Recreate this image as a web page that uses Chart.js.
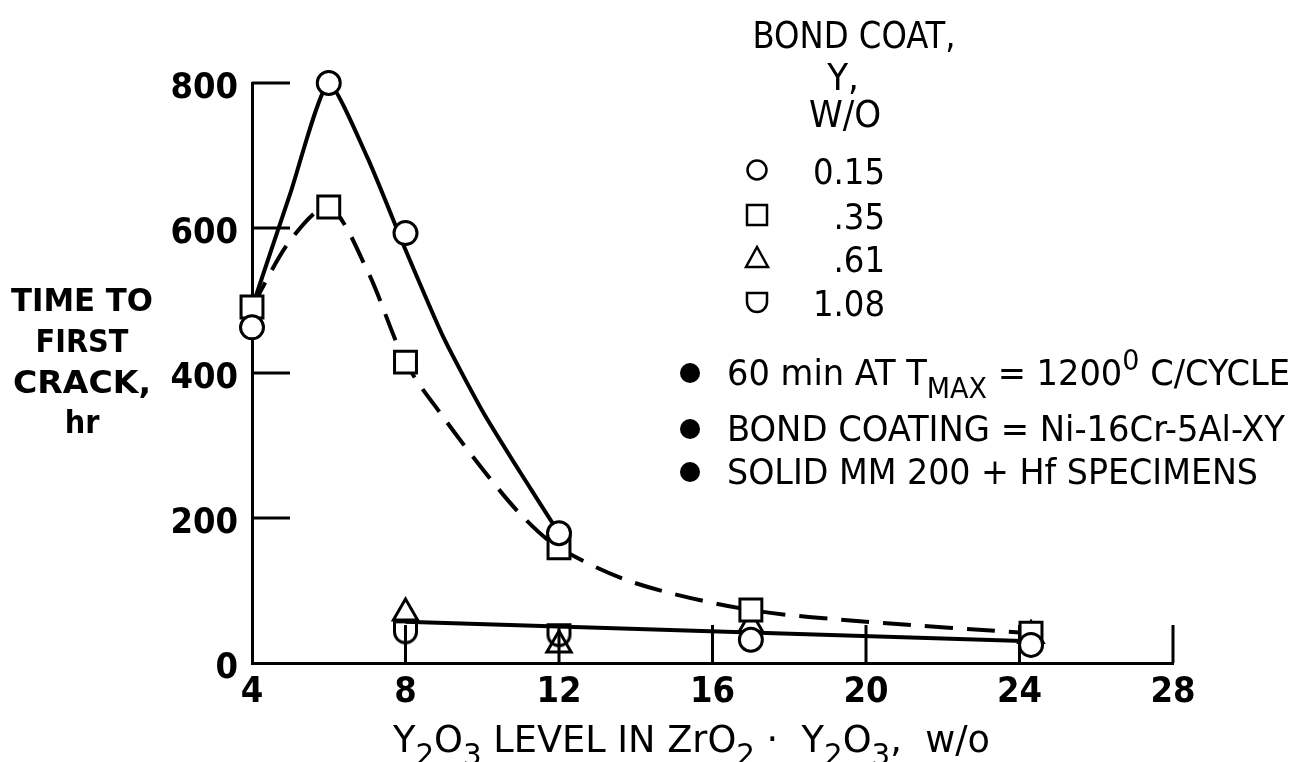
<!DOCTYPE html>
<html>
<head>
<meta charset="utf-8">
<script src="https://cdn.jsdelivr.net/npm/chart.js@4.4.0/dist/chart.umd.min.js"></script>
<style>
  html, body { margin: 0; padding: 0; background: #fff; }
</style>
</head>
<body>
<canvas id="myChart" width="1301" height="762"></canvas>
<script>
// axis ticks
var xTicks = [4, 8, 12, 16, 20, 24, 28];
var yTicks = [0, 200, 400, 600, 800];

// bond coat Y content, w/o (legend)
var bondCoat = ['0.15', '.35', '.61', '1.08'];

// measured points, time to first crack (hr) vs Y2O3 level (w/o)
var circleX = [4, 6, 8, 12, 17, 24.3];
var circleY = [463, 800, 593, 179, 32, 25];
var squareX = [4, 6, 8, 12, 17, 24.3];
var squareY = [491, 629, 415, 159, 73, 41];
var triangleX = [8, 12, 17, 24.3];
var triangleY = [69, 25, 52, 38];
var shieldX = [8, 12];
var shieldY = [43, 39];

// faired curves
var solidCurveX = [4, 5, 6, 7, 8, 9, 10, 11, 12];
var solidCurveY = [490, 648, 800, 698, 570, 448, 348, 262, 179];
var dashCurveX = [4, 5, 6, 7, 8, 9, 10, 11, 12, 14, 17, 20, 24.3];
var dashCurveY = [491, 583, 629, 542, 415, 338, 268, 205, 159, 110, 73, 57, 41];
var lowLineX = [8, 24.3];
var lowLineY = [57, 30];

var FONT = '"DejaVu Sans Condensed", "Liberation Sans Narrow", "DejaVu Sans", sans-serif';

function pts(xs, ys) {
    return xs.map(function (v, i) { return { x: v, y: ys[i] }; });
}

function drawShield(g, r) {
    g.beginPath();
    g.moveTo(-r, -r * 0.9);
    g.lineTo(r, -r * 0.9);
    g.lineTo(r, 0);
    g.arc(0, 0, r, 0, Math.PI);
    g.closePath();
}

function makeShield(r, lw) {
    var c = document.createElement('canvas');
    var s = Math.ceil(2 * r + lw + 4);
    c.width = s; c.height = s;
    var g = c.getContext('2d');
    g.translate(s / 2, s / 2);
    drawShield(g, r);
    g.lineWidth = lw;
    g.strokeStyle = '#000';
    g.stroke();
    return c;
}

var shieldImg = makeShield(11, 3);

function curve(xs, ys, dash, tension) {
    return {
        data: pts(xs, ys),
        borderColor: '#000',
        borderWidth: 4,
        borderDash: dash,
        tension: tension,
        pointRadius: 0,
        fill: false,
        clip: false,
        order: 2
    };
}

function marks(xs, ys, style, radius, bg) {
    return {
        data: pts(xs, ys),
        showLine: false,
        pointStyle: style,
        pointRadius: radius,
        pointBorderWidth: 3,
        pointBorderColor: '#000',
        pointBackgroundColor: bg,
        clip: false,
        order: 1
    };
}

// rich text: parts = [[text, kind]] kind 0 normal, 1 subscript, 2 superscript
function richText(ctx, parts, x, y, size, weight, width, align) {
    function f(p) {
        var s = p[1] ? size * 0.8 : size;
        return weight + ' ' + s + 'px ' + FONT;
    }
    var total = 0;
    parts.forEach(function (p) { ctx.font = f(p); total += ctx.measureText(p[0]).width; });
    var k = width ? width / total : 1;
    var start = x;
    if (align === 'center') start = x - total * k / 2;
    if (align === 'right') start = x - total * k;
    ctx.save();
    ctx.translate(start, y);
    ctx.scale(k, 1);
    ctx.textBaseline = 'alphabetic';
    ctx.textAlign = 'left';
    ctx.fillStyle = '#000';
    var cx = 0;
    parts.forEach(function (p) {
        ctx.font = f(p);
        var dy = p[1] === 1 ? size * 0.35 : (p[1] === 2 ? -size * 0.42 : 0);
        ctx.fillText(p[0], cx, dy);
        cx += ctx.measureText(p[0]).width;
    });
    ctx.restore();
}

function legendMark(ctx, i, x, y) {
    ctx.beginPath();
    if (i === 0) ctx.arc(x, y, 9.5, 0, Math.PI * 2);
    if (i === 1) ctx.rect(x - 10, y - 10, 20, 20);
    if (i === 2) { ctx.moveTo(x, y - 11); ctx.lineTo(x + 11, y + 9); ctx.lineTo(x - 11, y + 9); ctx.closePath(); }
    if (i === 3) { ctx.translate(x, y); drawShield(ctx, 10); ctx.translate(-x, -y); }
    ctx.stroke();
}

var paperPlugin = {
    id: 'paper',
    afterDatasetsDraw: function (chart) {
        var ctx = chart.ctx;
        var xs = chart.scales.x, ys = chart.scales.y;
        ctx.save();
        ctx.strokeStyle = '#000';
        ctx.lineWidth = 3;
        ctx.beginPath();
        xTicks.slice(1).forEach(function (v) {
            var px = xs.getPixelForValue(v);
            ctx.moveTo(px, ys.bottom);
            ctx.lineTo(px, ys.bottom - 38);
        });
        yTicks.slice(1).forEach(function (v) {
            var py = ys.getPixelForValue(v);
            ctx.moveTo(xs.left, py);
            ctx.lineTo(xs.left + 38, py);
        });
        ctx.stroke();
        ctx.restore();
    },
    afterDraw: function (chart) {
        var ctx = chart.ctx;
        ctx.save();

        // y axis title
        richText(ctx, [['TIME TO', 0]], 82, 311, 32, 'bold', 142, 'center');
        richText(ctx, [['FIRST', 0]], 82, 352, 32, 'bold', null, 'center');
        richText(ctx, [['CRACK,', 0]], 82, 393, 32, 'bold', 138, 'center');
        richText(ctx, [['hr', 0]], 82, 433, 32, 'bold', null, 'center');

        // x axis title
        richText(ctx, [['Y', 0], ['2', 1], ['O', 0], ['3', 1], [' LEVEL IN ZrO', 0], ['2', 1],
            [' \u00B7  Y', 0], ['2', 1], ['O', 0], ['3', 1], [',  w/o', 0]],
            393, 752, 38, 'normal', 597, 'left');

        // legend
        richText(ctx, [['BOND COAT,', 0]], 854, 48, 38, 'normal', 203, 'center');
        richText(ctx, [['Y,', 0]], 843, 90, 38, 'normal', null, 'center');
        richText(ctx, [['W/O', 0]], 845, 127, 38, 'normal', null, 'center');
        var rowY = [170, 215, 258, 302];
        ctx.strokeStyle = '#000';
        ctx.lineWidth = 2.5;
        bondCoat.forEach(function (lab, i) {
            legendMark(ctx, i, 757, rowY[i]);
            richText(ctx, [[lab, 0]], 885, rowY[i] + 14, 36, 'normal', null, 'right');
        });

        // test conditions
        var noteY = [385, 441, 484];
        noteY.forEach(function (ny) {
            ctx.beginPath();
            ctx.arc(690, ny - 12, 10, 0, Math.PI * 2);
            ctx.fillStyle = '#000';
            ctx.fill();
        });
        richText(ctx, [['60 min AT T', 0], ['MAX', 1], [' = 1200', 0], ['0', 2], [' C/CYCLE', 0]],
            727, noteY[0], 36, 'normal', 563, 'left');
        richText(ctx, [['BOND COATING = Ni-16Cr-5Al-XY', 0]], 727, noteY[1], 36, 'normal', 558, 'left');
        richText(ctx, [['SOLID MM 200 + Hf SPECIMENS', 0]], 727, noteY[2], 36, 'normal', 531, 'left');

        ctx.restore();
    }
};

var tickFont = { family: FONT, size: 36, weight: 'bold' };

var myChart = new Chart(document.getElementById('myChart'), {
    type: 'line',
    data: {
        datasets: [
            curve(solidCurveX, solidCurveY, [], 0.2),
            curve(dashCurveX, dashCurveY, [28, 14], 0.3),
            curve(lowLineX, lowLineY, [], 0),
            marks(circleX, circleY, 'circle', 11.5, '#fff'),
            marks(squareX, squareY, 'rect', 15.5, '#fff'),
            marks(triangleX, triangleY, 'triangle', 14, 'rgba(0,0,0,0)'),
            marks(shieldX, shieldY, shieldImg, 11, 'rgba(0,0,0,0)')
        ]
    },
    options: {
        responsive: false,
        animation: false,
        layout: { padding: { left: 162, right: 128, top: 83, bottom: 0 } },
        plugins: {
            legend: { display: false },
            tooltip: { enabled: false }
        },
        scales: {
            x: {
                type: 'linear',
                min: 4,
                max: 28,
                afterBuildTicks: function (s) { s.ticks = xTicks.map(function (v) { return { value: v }; }); },
                afterFit: function (s) { s.height = 99; },
                ticks: { font: tickFont, color: '#000', padding: 8, maxRotation: 0 },
                grid: { display: false, drawTicks: false },
                border: { color: '#000', width: 3 }
            },
            y: {
                type: 'linear',
                min: 0,
                max: 800,
                afterBuildTicks: function (s) { s.ticks = yTicks.map(function (v) { return { value: v }; }); },
                afterFit: function (s) { s.width = 90; },
                ticks: { font: tickFont, color: '#000', padding: 14, labelOffset: 6 },
                grid: { display: false, drawTicks: false },
                border: { color: '#000', width: 3 }
            }
        }
    },
    plugins: [paperPlugin]
});
</script>
</body>
</html>
